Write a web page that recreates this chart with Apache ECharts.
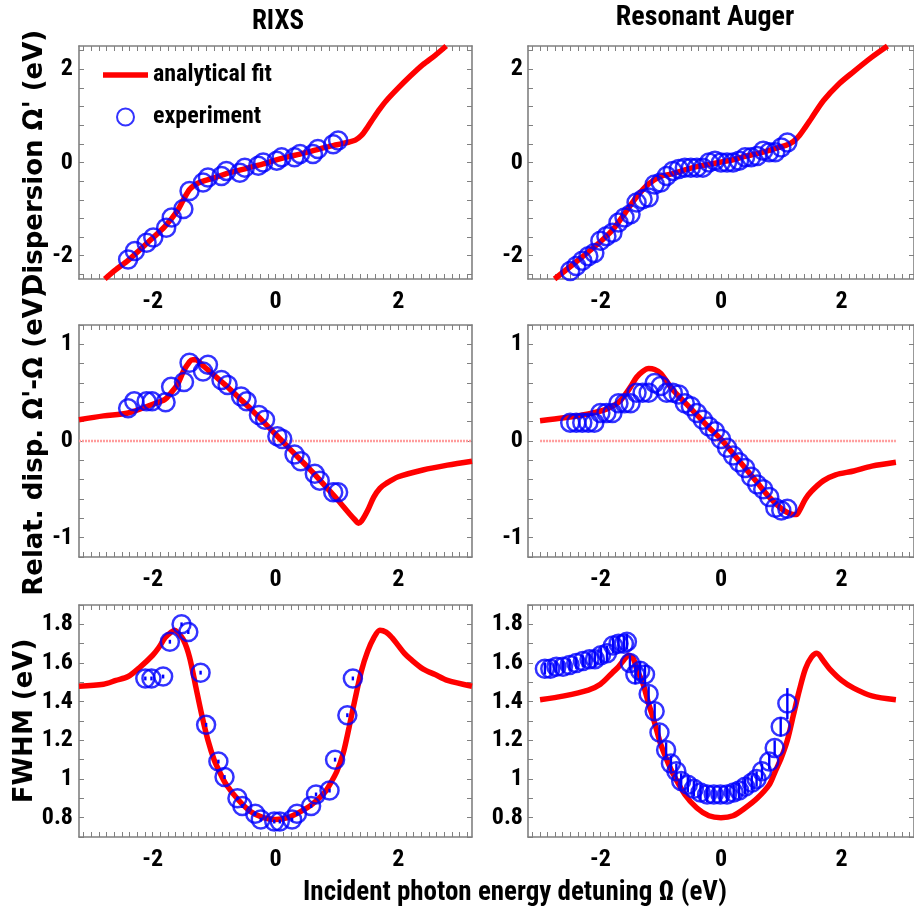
<!DOCTYPE html>
<html><head><meta charset="utf-8">
<script src="https://cdn.jsdelivr.net/npm/echarts@6.0.0/dist/echarts.min.js"></script>
<style>html,body{margin:0;padding:0;background:#fff}#c{width:914px;height:918px}</style>
</head><body><div id="c"></div>
<script>
// ---------------- DATA ----------------
const colTitles = ['RIXS', 'Resonant Auger'];
const rowNames = ["Dispersion \u03A9' (eV)", "Relat. disp. \u03A9'-\u03A9 (eV)", 'FWHM (eV)'];
const xLabelText = 'Incident photon energy detuning \u03A9 (eV)';
const legendNames = ['analytical fit', 'experiment'];
const xTickLabels = [-2, 0, 2];
const dispTickLabels = [-2, 0, 2];
const relTickLabels = [-1, 0, 1];
const fwhmTickLabels = [0.8, 1, 1.2, 1.4, 1.6, 1.8];

// RIXS experiment
const rixsDispX = [-2.40,-2.29,-2.10,-1.99,-1.78,-1.69,-1.50,-1.40,-1.18,-1.10,-0.88,-0.80,-0.58,-0.50,-0.28,-0.20,0.02,0.10,0.31,0.40,0.61,0.69,0.94,1.02];
const rixsDispY = [-2.08,-1.90,-1.72,-1.61,-1.40,-1.18,-1.00,-0.61,-0.43,-0.32,-0.29,-0.18,-0.22,-0.11,-0.07,0.00,0.04,0.11,0.11,0.18,0.18,0.29,0.39,0.47];
const rixsRelX = [-2.40,-2.30,-2.10,-2.01,-1.79,-1.70,-1.49,-1.40,-1.18,-1.10,-0.88,-0.78,-0.56,-0.47,-0.27,-0.17,0.03,0.11,0.31,0.41,0.64,0.72,0.94,1.02];
const rixsRelY = [0.34,0.41,0.41,0.41,0.40,0.56,0.61,0.81,0.72,0.79,0.63,0.58,0.46,0.41,0.27,0.22,0.05,0.02,-0.14,-0.21,-0.34,-0.41,-0.53,-0.53];
const rixsFwhmX = [-2.12,-2.02,-1.83,-1.72,-1.53,-1.42,-1.22,-1.13,-0.93,-0.83,-0.62,-0.54,-0.33,-0.24,-0.02,0.07,0.27,0.35,0.58,0.66,0.88,0.97,1.17,1.26];
const rixsFwhmY = [1.52,1.52,1.53,1.71,1.80,1.76,1.55,1.28,1.09,1.01,0.90,0.86,0.82,0.79,0.78,0.78,0.79,0.82,0.86,0.92,0.94,1.10,1.33,1.52];
const rixsFwhmErr = [0.01,0.01,0.01,0.01,0.01,0.01,0.01,0.01,0.01,0.01,0.01,0.01,0.01,0.01,0.01,0.01,0.01,0.01,0.01,0.01,0.01,0.01,0.01,0.01];

// RIXS analytical fit
const rixsFitDispX = [-2.78,-2.6,-2.4,-2.2,-2.0,-1.8,-1.6,-1.5,-1.4,-1.3,-1.2,-1.0,-0.8,-0.6,-0.4,-0.2,0,0.2,0.4,0.6,0.8,1.0,1.1,1.2,1.3,1.4,1.5,1.6,1.7,1.8,2.0,2.2,2.4,2.6,2.78];
const rixsFitDispY = [-2.5,-2.3,-2.1,-1.86,-1.62,-1.37,-1.04,-0.80,-0.58,-0.47,-0.41,-0.33,-0.24,-0.17,-0.10,-0.03,0.05,0.12,0.18,0.25,0.32,0.38,0.41,0.44,0.48,0.58,0.76,0.96,1.15,1.32,1.60,1.86,2.1,2.3,2.5];
const rixsFitRelX = [-3.2,-2.8,-2.4,-2.0,-1.8,-1.7,-1.6,-1.5,-1.4,-1.35,-1.3,-1.2,-1.0,-0.8,-0.6,-0.4,-0.2,0,0.2,0.4,0.6,0.8,1.0,1.2,1.3,1.35,1.4,1.5,1.6,1.7,1.8,2.0,2.4,2.8,3.2];
const rixsFitRelY = [0.22,0.26,0.29,0.38,0.43,0.50,0.58,0.72,0.82,0.84,0.84,0.79,0.68,0.57,0.45,0.33,0.20,0.07,-0.06,-0.19,-0.32,-0.46,-0.60,-0.75,-0.82,-0.85,-0.83,-0.72,-0.58,-0.49,-0.44,-0.37,-0.30,-0.25,-0.21];
const rixsFitFwhmX = [-3.2,-2.8,-2.6,-2.4,-2.2,-2.0,-1.9,-1.8,-1.7,-1.64,-1.6,-1.5,-1.4,-1.3,-1.2,-1.1,-1.0,-0.9,-0.8,-0.6,-0.4,-0.2,0,0.2,0.4,0.6,0.8,0.9,1.0,1.1,1.2,1.3,1.4,1.5,1.6,1.7,1.8,1.9,2.0,2.1,2.2,2.4,2.6,2.8,3.2];
const rixsFitFwhmY = [1.48,1.49,1.51,1.53,1.58,1.64,1.68,1.73,1.76,1.77,1.76,1.72,1.63,1.48,1.33,1.20,1.10,1.03,0.97,0.89,0.83,0.80,0.79,0.80,0.83,0.87,0.93,0.98,1.04,1.13,1.27,1.42,1.56,1.66,1.73,1.77,1.76,1.73,1.69,1.65,1.62,1.57,1.54,1.51,1.48];

// Resonant Auger experiment
const augX = [-2.5,-2.4,-2.3,-2.2,-2.1,-2.0,-1.9,-1.8,-1.7,-1.6,-1.5,-1.4,-1.3,-1.2,-1.1,-1.0,-0.9,-0.8,-0.7,-0.6,-0.5,-0.4,-0.3,-0.2,-0.1,0.0,0.1,0.2,0.3,0.4,0.5,0.6,0.7,0.8,0.9,1.0,1.1];
const augDispY = [-2.33,-2.22,-2.11,-2.01,-1.94,-1.68,-1.58,-1.51,-1.29,-1.18,-1.11,-0.86,-0.79,-0.75,-0.47,-0.43,-0.29,-0.18,-0.14,-0.11,-0.11,-0.11,-0.11,0.00,0.04,0.00,0.00,0.00,0.04,0.11,0.11,0.14,0.25,0.22,0.22,0.32,0.43];
const augRelY = [0.19,0.19,0.19,0.19,0.19,0.29,0.29,0.29,0.39,0.39,0.39,0.50,0.50,0.50,0.60,0.57,0.50,0.50,0.48,0.39,0.36,0.29,0.22,0.15,0.10,0.02,-0.07,-0.15,-0.22,-0.28,-0.37,-0.45,-0.50,-0.58,-0.69,-0.72,-0.70];
const augFwhmX = [-2.92,-2.83,-2.73,-2.62,-2.51,-2.40,-2.29,-2.18,-2.09,-1.99,-1.89,-1.79,-1.70,-1.61,-1.56,-1.51,-1.42,-1.34,-1.26,-1.20,-1.10,-1.02,-0.91,-0.83,-0.74,-0.66,-0.55,-0.45,-0.34,-0.23,-0.12,-0.01,0.10,0.21,0.30,0.40,0.51,0.59,0.68,0.80,0.89,0.99,1.10];
const augFwhmY = [1.57,1.57,1.58,1.58,1.59,1.60,1.61,1.62,1.62,1.64,1.65,1.69,1.70,1.70,1.71,1.60,1.54,1.56,1.54,1.44,1.35,1.24,1.15,1.08,1.04,0.99,0.97,0.95,0.93,0.92,0.92,0.92,0.92,0.93,0.94,0.96,0.98,1.00,1.04,1.09,1.16,1.27,1.39];
const augFwhmErr = [0.03,0.03,0.03,0.03,0.03,0.03,0.03,0.03,0.04,0.04,0.04,0.04,0.04,0.04,0.04,0.04,0.05,0.05,0.05,0.04,0.04,0.04,0.04,0.04,0.04,0.04,0.04,0.04,0.04,0.04,0.04,0.04,0.04,0.04,0.04,0.04,0.04,0.04,0.04,0.04,0.04,0.05,0.08];

// Resonant Auger analytical fit
const augFitDispX = [-2.76,-2.4,-2.0,-1.8,-1.6,-1.4,-1.2,-1.0,-0.8,-0.6,-0.4,-0.2,0,0.2,0.4,0.6,0.8,1.0,1.1,1.2,1.3,1.4,1.5,1.7,1.95,2.2,2.5,2.76];
const augFitDispY = [-2.5,-2.13,-1.70,-1.45,-1.10,-0.74,-0.46,-0.30,-0.24,-0.16,-0.09,-0.04,0.01,0.06,0.13,0.19,0.26,0.34,0.38,0.45,0.58,0.76,0.95,1.33,1.68,1.95,2.26,2.5];
const augFitRelX = [-3.0,-2.6,-2.2,-1.9,-1.7,-1.6,-1.5,-1.4,-1.3,-1.2,-1.1,-1.0,-0.8,-0.6,-0.4,-0.2,0,0.2,0.4,0.6,0.8,1.0,1.1,1.2,1.25,1.3,1.4,1.5,1.7,1.9,2.2,2.5,2.9];
const augFitRelY = [0.21,0.24,0.28,0.33,0.40,0.47,0.56,0.66,0.72,0.75,0.74,0.70,0.53,0.40,0.27,0.14,0.02,-0.13,-0.28,-0.43,-0.58,-0.70,-0.74,-0.76,-0.76,-0.72,-0.60,-0.52,-0.41,-0.35,-0.31,-0.26,-0.22];
const augFitFwhmX = [-3.0,-2.6,-2.2,-2.0,-1.8,-1.7,-1.6,-1.53,-1.45,-1.4,-1.3,-1.2,-1.1,-1.0,-0.9,-0.8,-0.6,-0.4,-0.2,0,0.2,0.4,0.6,0.8,0.9,1.0,1.1,1.2,1.3,1.4,1.5,1.59,1.7,1.8,2.0,2.2,2.5,2.9];
const augFitFwhmY = [1.41,1.43,1.46,1.49,1.55,1.58,1.62,1.64,1.62,1.57,1.50,1.39,1.29,1.18,1.10,1.03,0.92,0.85,0.81,0.80,0.81,0.85,0.90,0.97,1.04,1.11,1.20,1.33,1.46,1.57,1.63,1.65,1.61,1.57,1.51,1.47,1.43,1.41];

// zero reference lines (middle row)
const zeroLeftX = [-3.2, 3.2];
const zeroRightX = [-3.0, 2.9];
const zeroY = [0, 0];

// ---------------- LAYOUT / STYLE ----------------
const NARROW = "Roboto,'Liberation Sans',sans-serif";
const NW = 'bold condensed';
const WIDE = "'DejaVu Sans',sans-serif";
const AX = '#808080';
const cols = [{left: 79, width: 393}, {left: 528, width: 392}];
const rows = [{top: 46, height: 233, min: -2.5, max: 2.5, labels: dispTickLabels, step: 0.4, t0: -2.4},
              {top: 325, height: 232, min: -1.2, max: 1.2, labels: relTickLabels, step: 0.2, t0: -1.2},
              {top: 605, height: 232, min: 0.7, max: 1.9, labels: fwhmTickLabels, step: 0.1, t0: 0.7}];
function ticksFrom(start, end, step) {
  const out = [];
  for (let v = start; v <= end + 1e-9; v += step) out.push(Math.round(v * 1000) / 1000);
  return out;
}
const xMinor = ticksFrom(-3.125, 3.125, 0.125);

const pair = (xs, ys) => xs.map((x, i) => [x, ys[i]]);
const triple = (xs, ys, es) => xs.map((x, i) => [x, ys[i], es[i]]);

const grids = [], xAxes = [], yAxes = [], series = [];
const labelStyle = {fontSize: 24, fontWeight: NW, fontFamily: NARROW, color: '#000'};

rows.forEach((r, ri) => {
  cols.forEach((c, ci) => {
    const p = ri * 2 + ci;
    grids.push({left: c.left, top: r.top, width: c.width, height: r.height, show: false});
    const yMinor = ticksFrom(r.t0, r.max, r.step);
    const baseLine = {show: true, onZero: false, lineStyle: {color: AX, width: 1.6}};
    const tick = (vals) => ({show: true, inside: true, length: 5, customValues: vals, lineStyle: {color: AX, width: 1}});
    xAxes.push({type: 'value', gridIndex: p, min: -3.2, max: 3.2, position: 'bottom',
      axisLine: baseLine, axisTick: tick(xMinor), splitLine: {show: false},
      axisLabel: Object.assign({show: true, customValues: xTickLabels, margin: 11, formatter: v => String(v)}, labelStyle)});
    xAxes.push({type: 'value', gridIndex: p, min: -3.2, max: 3.2, position: 'top',
      axisLine: baseLine, axisTick: tick(xMinor), splitLine: {show: false}, axisLabel: {show: false}});
    const yl = {type: 'value', gridIndex: p, min: r.min, max: r.max, position: 'left',
      axisLine: baseLine, axisTick: tick(yMinor), splitLine: {show: false},
      axisLabel: Object.assign({show: true, customValues: r.labels, margin: ci === 0 ? 6 : 5, formatter: v => String(v)}, labelStyle)};
    if (ci === 0) {
      yl.name = rowNames[ri];
      yl.nameLocation = 'middle';
      yl.nameGap = 30;
      yl.nameRotate = 90;
      yl.nameTextStyle = {fontSize: 26, fontWeight: 'bold', fontFamily: WIDE, color: '#000'};
    }
    yAxes.push(yl);
    yAxes.push({type: 'value', gridIndex: p, min: r.min, max: r.max, position: 'right',
      axisLine: baseLine, axisTick: tick(yMinor), splitLine: {show: false}, axisLabel: {show: false}});
  });
});

function fitSeries(p, xs, ys) {
  return {name: legendNames[0], type: 'line', xAxisIndex: 2 * p, yAxisIndex: 2 * p,
    data: pair(xs, ys), symbol: 'none', showSymbol: false, smooth: 0.3, z: 2,
    lineStyle: {color: '#ff0000', width: 5.5}, itemStyle: {color: '#ff0000'}};
}
function expSeries(p, xs, ys) {
  return {name: legendNames[1], type: 'scatter', xAxisIndex: 2 * p, yAxisIndex: 2 * p,
    data: pair(xs, ys), symbol: 'circle', symbolSize: 18, z: 4,
    itemStyle: {color: 'rgba(0,0,0,0)', borderColor: '#0000ff', borderWidth: 2.5}};
}
function errSeries(p, xs, ys, es) {
  return {type: 'custom', xAxisIndex: 2 * p, yAxisIndex: 2 * p, z: 5, silent: true,
    data: triple(xs, ys, es),
    renderItem: (params, api) => {
      const x = api.value(0), y = api.value(1), e = api.value(2);
      const a = api.coord([x, y - e]), b = api.coord([x, y + e]);
      return {type: 'line', shape: {x1: a[0], y1: a[1], x2: b[0], y2: b[1]}, style: {stroke: '#0000ff', lineWidth: 2.4}};
    }};
}
function zeroSeries(p, xs) {
  return {type: 'line', xAxisIndex: 2 * p, yAxisIndex: 2 * p, data: pair(xs, zeroY), symbol: 'none', silent: true, z: 1,
    lineStyle: {color: '#ff9c9c', width: 2.5, type: [2, 1]}};
}

series.push(zeroSeries(2, zeroLeftX), zeroSeries(3, zeroRightX));
series.push(fitSeries(0, rixsFitDispX, rixsFitDispY), expSeries(0, rixsDispX, rixsDispY));
series.push(fitSeries(2, rixsFitRelX, rixsFitRelY), expSeries(2, rixsRelX, rixsRelY));
series.push(fitSeries(4, rixsFitFwhmX, rixsFitFwhmY), expSeries(4, rixsFwhmX, rixsFwhmY), errSeries(4, rixsFwhmX, rixsFwhmY, rixsFwhmErr));
series.push(fitSeries(1, augFitDispX, augFitDispY), expSeries(1, augX, augDispY));
series.push(fitSeries(3, augFitRelX, augFitRelY), expSeries(3, augX, augRelY));
series.push(fitSeries(5, augFitFwhmX, augFitFwhmY), expSeries(5, augFwhmX, augFwhmY), errSeries(5, augFwhmX, augFwhmY, augFwhmErr));

const chart = echarts.init(document.getElementById('c'), null, {renderer: 'canvas'});
chart.setOption({
  animation: false,
  backgroundColor: '#fff',
  grid: grids, xAxis: xAxes, yAxis: yAxes, series: series,
  legend: {show: true, orient: 'vertical', left: 98, top: 58, itemWidth: 45, itemHeight: 17, itemGap: 18,
    selectedMode: false, symbolKeepAspect: true,
    data: [{name: legendNames[0], icon: 'path://M0,0 H47 V6 H0 Z'}, {name: legendNames[1]}],
    textStyle: {fontSize: 24, fontWeight: NW, fontFamily: NARROW, color: '#000'}},
  graphic: [
    {type: 'text', x: 278, y: 22, style: {text: colTitles[0], fontSize: 27, fontWeight: NW, fontFamily: NARROW, fill: '#000', align: 'center', verticalAlign: 'middle'}},
    {type: 'text', x: 705, y: 18, style: {text: colTitles[1], fontSize: 28, fontWeight: NW, fontFamily: NARROW, fill: '#000', align: 'center', verticalAlign: 'middle'}},
    {type: 'text', x: 515, y: 893, style: {text: xLabelText, fontSize: 27, fontWeight: NW, fontFamily: NARROW, fill: '#000', align: 'center', verticalAlign: 'middle'}}
  ]
});
</script></body></html>
